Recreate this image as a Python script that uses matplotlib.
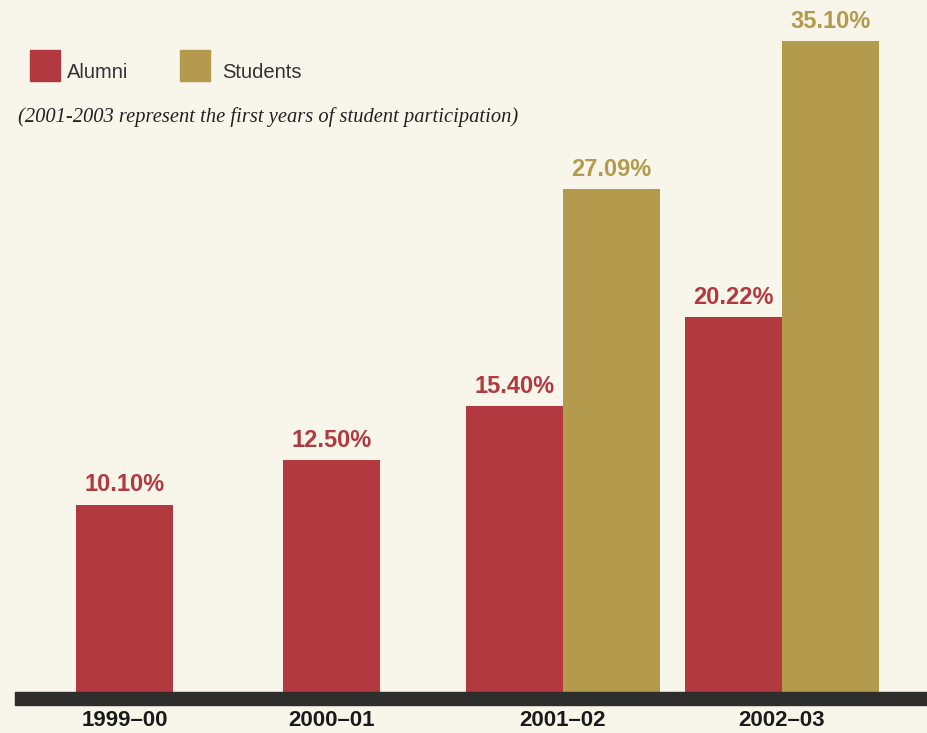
import matplotlib
matplotlib.use("Agg")
import matplotlib.pyplot as plt
from matplotlib.patches import Rectangle

# ---- data ----
categories = ["1999\u201300", "2000\u201301", "2001\u201302", "2002\u201303"]
alumni = [10.10, 12.50, 15.40, 20.22]
students = [None, None, 27.09, 35.10]
alumni_labels = ["10.10%", "12.50%", "15.40%", "20.22%"]
student_labels = [None, None, "27.09%", "35.10%"]

# ---- layout ----
W, H = 928, 733
centers = [125, 332, 563, 782]   # group centers in pixels
bw = 97
base_px = 692
px_per_unit = 18.55
BG = "#f8f6ea"
RED = "#b2393f"
GOLD = "#b39a4d"

fig = plt.figure(figsize=(W / 100, H / 100), dpi=100, facecolor=BG)
ax = fig.add_axes([0, 0, 1, 1])
ax.set_facecolor(BG)
ax.set_xlim(0, W)
ax.set_ylim(-(H - base_px) / px_per_unit, base_px / px_per_unit)
ax.axis("off")

def ypx(p):
    return (base_px - p) / px_per_unit

font_b = ["Liberation Sans", "DejaVu Sans"]
for i, c in enumerate(centers):
    has_s = students[i] is not None
    xa = c - bw / 2 if has_s else c
    ax.bar(xa, alumni[i], width=bw, color=RED, align="center", zorder=2)
    ax.text(xa, alumni[i] + 0.45, alumni_labels[i], ha="center", va="bottom",
            color=RED, fontsize=17, fontweight="bold", family=font_b)
    if has_s:
        xs = c + bw / 2
        ax.bar(xs, students[i], width=bw, color=GOLD, align="center", zorder=2)
        ax.text(xs, students[i] + 0.45, student_labels[i], ha="center", va="bottom",
                color=GOLD, fontsize=17, fontweight="bold", family=font_b)
    ax.text(c, ypx(721), categories[i], ha="center", va="center", color="#1a1a1a",
            fontsize=16, fontweight="bold",
            family=["Liberation Sans Narrow", "Liberation Sans", "DejaVu Sans"])

# baseline bar
ax.add_patch(Rectangle((15, ypx(705)), W - 15, (705 - 692) / px_per_unit,
                       color="#2e2e2c", zorder=3))

# legend
ax.add_patch(Rectangle((30, ypx(81)), 30, 31 / px_per_unit, color=RED))
ax.text(67, ypx(73), "Alumni", ha="left", va="center", color="#333333",
        fontsize=14.5, fontweight="medium", family=font_b)
ax.add_patch(Rectangle((180, ypx(81)), 30, 31 / px_per_unit, color=GOLD))
ax.text(222, ypx(73), "Students", ha="left", va="center", color="#333333",
        fontsize=14.5, fontweight="medium", family=font_b)

ax.text(18, ypx(117), "(2001-2003 represent the first years of student participation)",
        ha="left", va="center", color="#222222", fontsize=14.8, style="italic",
        family=["Liberation Serif", "DejaVu Serif"])

fig.savefig("out.png", dpi=100, facecolor=BG)
